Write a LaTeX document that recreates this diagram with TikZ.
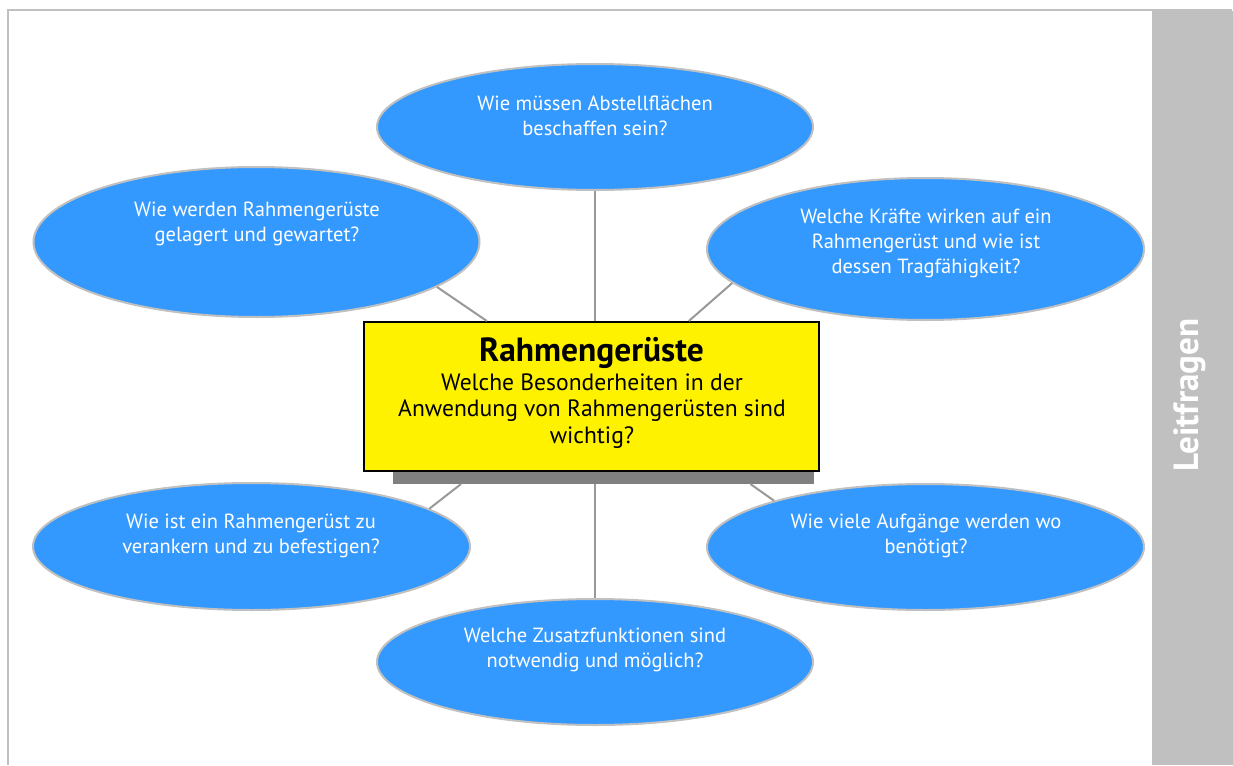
\documentclass[tikz,border=0pt]{standalone}
\usepackage{fontspec}
\setmainfont{PT Sans}
\usetikzlibrary{shapes.geometric,calc}
\definecolor{ellblue}{HTML}{3399FF}
\definecolor{ellrim}{HTML}{C0C0C0}
\definecolor{framegrey}{HTML}{C0C0C0}
\definecolor{shadowgrey}{HTML}{808080}
\definecolor{linkgrey}{HTML}{999999}
\tikzset{
  bubble/.style={ellipse, draw=ellrim, line width=2pt, fill=ellblue, inner sep=0pt},
  bubbletext/.style={text=white, align=center, inner sep=0pt, font=\fontsize{20.5}{25}\selectfont},
  link/.style={draw=linkgrey, line width=2pt},
  framel/.style={draw=framegrey, line width=2pt},
}
\begin{document}
\begin{tikzpicture}[x=1pt,y=-1pt]
\useasboundingbox (0,0) rectangle (1233,765);
\fill[white] (0,0) rectangle (1233,765);
% frame and side band
\draw[framel] (7,10) -- (1232,10);
\draw[framel] (8,10) -- (8,765);
\fill[framegrey] (1152,11) rectangle (1233,765);
\node[rotate=90, text=white, inner sep=0pt, font=\fontsize{35}{38}\selectfont\bfseries] (side) at (1190,395) {Leitfragen};

% shadow and central box
\node[fill=shadowgrey, minimum width=421pt, minimum height=150pt, inner sep=0pt, anchor=south west] (sh) at (393,484) {};
\node[fill=yellow, draw=black, line width=2pt, minimum width=455pt, minimum height=149pt, inner sep=0pt] (c) at (591.5,396.5) {};

% bubbles
\node[bubble, minimum width=436pt, minimum height=126pt] (T) at (595,127) {};
\node[bubble, minimum width=446pt, minimum height=150pt] (TL) at (256.5,242) {};
\node[bubble, minimum width=437pt, minimum height=142pt] (TR) at (925.5,249) {};
\node[bubble, minimum width=437pt, minimum height=127pt] (BL) at (251.5,546.5) {};
\node[bubble, minimum width=437pt, minimum height=126pt] (BR) at (925.5,547) {};
\node[bubble, minimum width=436pt, minimum height=126pt] (B) at (595,662) {};

% connectors
\draw[link] (T.south) -- (T.south |- c.north);
\draw[link] (TL.-14) -- ($(c.north west)!0.271!(c.north east)$);
\draw[link] (TR.190.8) -- ($(c.north west)!0.713!(c.north east)$);
\draw[link] (BL.12) -- ($(sh.south west)!0.1615!(sh.south east)$);
\draw[link] (BR.163.2) -- ($(sh.south west)!0.848!(sh.south east)$);
\draw[link] (B.north) -- (B.north |- sh.south);

% texts
\node[bubbletext] (tT) at (595,116) {Wie müssen Abstellflächen\\beschaffen sein?};
\node[bubbletext] (tTL) at (257,223.5) {Wie werden Rahmengerüste\\gelagert und gewartet?};
\node[bubbletext] (tTR) at (926,243.5) {Welche Kräfte wirken auf ein\\Rahmengerüst und wie ist\\dessen Tragfähigkeit?};
\node[bubbletext] (tBL) at (251,535.5) {Wie ist ein Rahmengerüst zu\\verankern und zu befestigen?};
\node[bubbletext] (tBR) at (926,535.5) {Wie viele Aufgänge werden wo\\benötigt?};
\node[bubbletext] (tB) at (595,649.5) {Welche Zusatzfunktionen sind\\notwendig und möglich?};

\node[inner sep=0pt, anchor=base, font=\fontsize{33.5}{36}\selectfont\bfseries] (title) at (591.5,361) {Rahmengerüste};
\node[inner sep=0pt, align=center, font=\fontsize{23.6}{26.5}\selectfont] (body) at (592,411) {Welche Besonderheiten in der\\Anwendung von Rahmengerüsten sind\\wichtig?};
\end{tikzpicture}
\end{document}
